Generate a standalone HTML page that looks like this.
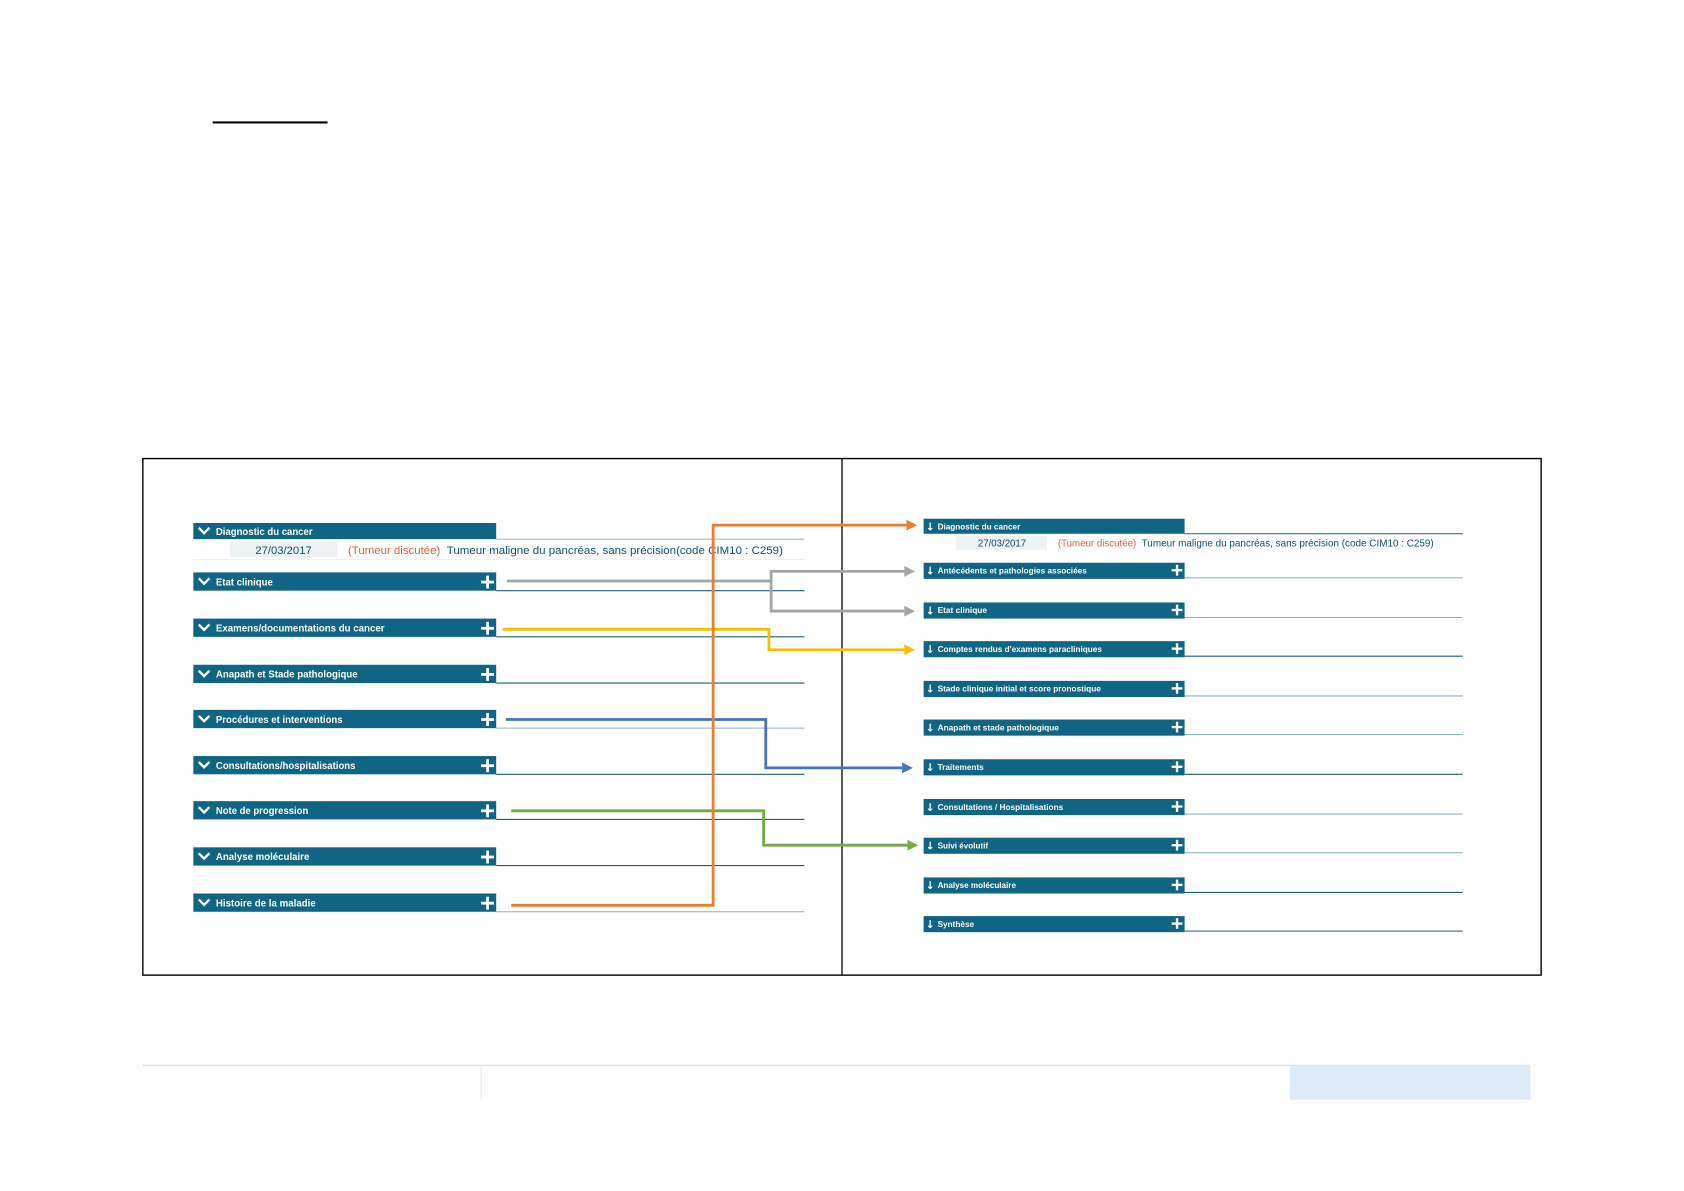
<!DOCTYPE html>
<html><head><meta charset="utf-8"><style>
html,body{margin:0;padding:0;background:#fff;}
svg{display:block;}
.h{fill:#fff;font-family:"Liberation Sans",sans-serif;font-weight:bold;font-size:9.5px;}
.hr{fill:#fff;font-family:"Liberation Sans",sans-serif;font-weight:bold;font-size:8px;}
.ar{fill:#fff;font-family:"DejaVu Sans",sans-serif;font-weight:bold;font-size:10px;}
</style></head><body>
<svg width="1684" height="1191" viewBox="0 0 1568 1109" xmlns="http://www.w3.org/2000/svg">
<defs>
<g id="plus"><rect x="-6" y="-1.3" width="12" height="2.6" fill="#fff"/><rect x="-1.3" y="-6" width="2.6" height="12" fill="#fff"/></g>
<g id="chev"><polyline points="-5,-2.5 0,2.5 5,-2.5" fill="none" stroke="#fff" stroke-width="2.2"/></g>
<g id="plusr"><rect x="-5" y="-1.1" width="10" height="2.2" fill="#fff"/><rect x="-1.1" y="-5" width="2.2" height="10" fill="#fff"/></g>
</defs>
<line x1="198" y1="114" x2="305" y2="114" stroke="#000" stroke-width="2"/>
<rect x="133" y="427" width="1302" height="481" fill="none" stroke="#000" stroke-width="1.3"/>
<line x1="784" y1="427" x2="784" y2="908" stroke="#000" stroke-width="1.2"/>

<rect x="180" y="487" width="282" height="15" fill="#0f6583"/>
<use href="#chev" x="190" y="494"/>
<text class="h" x="201" y="498" textLength="90" lengthAdjust="spacingAndGlyphs">Diagnostic du cancer</text>
<line x1="462" y1="502" x2="749" y2="502" stroke="#8fb2c2" stroke-width="1"/>
<rect x="214" y="504" width="100" height="15" fill="#edf3f5"/>
<text x="264" y="516" text-anchor="middle" font-family="Liberation Sans,sans-serif" font-size="10.5" fill="#1b4d68">27/03/2017</text>
<text x="324" y="516" font-family="Liberation Sans,sans-serif" font-size="10.5" fill="#e0604a" textLength="86" lengthAdjust="spacingAndGlyphs">(Tumeur discutée)</text>
<text x="416" y="516" font-family="Liberation Sans,sans-serif" font-size="10.5" fill="#14506e" textLength="313" lengthAdjust="spacingAndGlyphs">Tumeur maligne du pancréas, sans précision(code CIM10 : C259)</text>
<line x1="180" y1="521" x2="749" y2="521" stroke="#eef2f4" stroke-width="1"/>

<g>
<rect x="180" y="533" width="282" height="17" fill="#0f6583"/><use href="#chev" x="190" y="541"/><use href="#plus" x="454" y="542"/>
<text class="h" x="201" y="545" textLength="53" lengthAdjust="spacingAndGlyphs">Etat clinique</text>
<line x1="462" y1="550" x2="749" y2="550" stroke="#1f5f78" stroke-width="1"/>

<rect x="180" y="576" width="282" height="17" fill="#0f6583"/><use href="#chev" x="190" y="584"/><use href="#plus" x="454" y="585"/>
<text class="h" x="201" y="588" textLength="157" lengthAdjust="spacingAndGlyphs">Examens/documentations du cancer</text>
<line x1="462" y1="593" x2="749" y2="593" stroke="#1f5f78" stroke-width="1"/>

<rect x="180" y="619" width="282" height="17" fill="#0f6583"/><use href="#chev" x="190" y="627"/><use href="#plus" x="454" y="628"/>
<text class="h" x="201" y="631" textLength="132" lengthAdjust="spacingAndGlyphs">Anapath et Stade pathologique</text>
<line x1="462" y1="636" x2="749" y2="636" stroke="#1f5f78" stroke-width="1"/>

<rect x="180" y="661" width="282" height="17" fill="#0f6583"/><use href="#chev" x="190" y="669"/><use href="#plus" x="454" y="670"/>
<text class="h" x="201" y="673" textLength="118" lengthAdjust="spacingAndGlyphs">Procédures et interventions</text>
<line x1="462" y1="678" x2="749" y2="678" stroke="#8fb2c2" stroke-width="1"/>

<rect x="180" y="704" width="282" height="17" fill="#0f6583"/><use href="#chev" x="190" y="712"/><use href="#plus" x="454" y="713"/>
<text class="h" x="201" y="716" textLength="130" lengthAdjust="spacingAndGlyphs">Consultations/hospitalisations</text>
<line x1="462" y1="721" x2="749" y2="721" stroke="#1f5f78" stroke-width="1"/>

<rect x="180" y="746" width="282" height="17" fill="#0f6583"/><use href="#chev" x="190" y="754"/><use href="#plus" x="454" y="755"/>
<text class="h" x="201" y="758" textLength="86" lengthAdjust="spacingAndGlyphs">Note de progression</text>
<line x1="462" y1="763" x2="749" y2="763" stroke="#1f5f78" stroke-width="1"/>

<rect x="180" y="789" width="282" height="17" fill="#0f6583"/><use href="#chev" x="190" y="797"/><use href="#plus" x="454" y="798"/>
<text class="h" x="201" y="801" textLength="87" lengthAdjust="spacingAndGlyphs">Analyse moléculaire</text>
<line x1="462" y1="806" x2="749" y2="806" stroke="#1f5f78" stroke-width="1"/>

<rect x="180" y="832" width="282" height="17" fill="#0f6583"/><use href="#chev" x="190" y="840"/><use href="#plus" x="454" y="841"/>
<text class="h" x="201" y="844" textLength="93" lengthAdjust="spacingAndGlyphs">Histoire de la maladie</text>
<line x1="462" y1="849" x2="749" y2="849" stroke="#8fb2c2" stroke-width="1"/>
</g>

<g font-family="Liberation Sans,sans-serif">
<rect x="860" y="483" width="243" height="14" fill="#0f6583"/>
<text class="ar" x="862" y="494">↓</text>
<text class="hr" x="873" y="493" textLength="77" lengthAdjust="spacingAndGlyphs">Diagnostic du cancer</text>
<line x1="1103" y1="497" x2="1362" y2="497" stroke="#1f5f78" stroke-width="1"/>
<rect x="890" y="499" width="85" height="13" fill="#edf3f5"/>
<text x="933" y="509" text-anchor="middle" font-size="9" fill="#1b4d68">27/03/2017</text>
<text x="985" y="509" font-size="9" fill="#e0604a" textLength="73" lengthAdjust="spacingAndGlyphs">(Tumeur discutée)</text>
<text x="1063" y="509" font-size="9" fill="#14506e" textLength="272" lengthAdjust="spacingAndGlyphs">Tumeur maligne du pancréas, sans précision (code CIM10 : C259)</text>
</g>
<g>
<rect x="860" y="524" width="243" height="15" fill="#0f6583"/><text class="ar" x="862" y="535">↓</text><use href="#plusr" x="1096" y="531"/>
<text class="hr" x="873" y="534" textLength="139" lengthAdjust="spacingAndGlyphs">Antécédents et pathologies associées</text>
<line x1="1103" y1="538" x2="1362" y2="538" stroke="#8fb2c2" stroke-width="1"/>

<rect x="860" y="561" width="243" height="15" fill="#0f6583"/><text class="ar" x="862" y="572">↓</text><use href="#plusr" x="1096" y="568"/>
<text class="hr" x="873" y="571" textLength="46" lengthAdjust="spacingAndGlyphs">Etat clinique</text>
<line x1="1103" y1="575" x2="1362" y2="575" stroke="#8fb2c2" stroke-width="1"/>

<rect x="860" y="597" width="243" height="15" fill="#0f6583"/><text class="ar" x="862" y="608">↓</text><use href="#plusr" x="1096" y="604"/>
<text class="hr" x="873" y="607" textLength="153" lengthAdjust="spacingAndGlyphs">Comptes rendus d'examens paracliniques</text>
<line x1="1103" y1="611" x2="1362" y2="611" stroke="#1f5f78" stroke-width="1"/>

<rect x="860" y="634" width="243" height="15" fill="#0f6583"/><text class="ar" x="862" y="645">↓</text><use href="#plusr" x="1096" y="641"/>
<text class="hr" x="873" y="644" textLength="152" lengthAdjust="spacingAndGlyphs">Stade clinique initial et score pronostique</text>
<line x1="1103" y1="648" x2="1362" y2="648" stroke="#8fb2c2" stroke-width="1"/>

<rect x="860" y="670" width="243" height="15" fill="#0f6583"/><text class="ar" x="862" y="681">↓</text><use href="#plusr" x="1096" y="677"/>
<text class="hr" x="873" y="680" textLength="113" lengthAdjust="spacingAndGlyphs">Anapath et stade pathologique</text>
<line x1="1103" y1="684" x2="1362" y2="684" stroke="#8fb2c2" stroke-width="1"/>

<rect x="860" y="707" width="243" height="15" fill="#0f6583"/><text class="ar" x="862" y="718">↓</text><use href="#plusr" x="1096" y="714"/>
<text class="hr" x="873" y="717" textLength="43" lengthAdjust="spacingAndGlyphs">Traitements</text>
<line x1="1103" y1="721" x2="1362" y2="721" stroke="#1f5f78" stroke-width="1"/>

<rect x="860" y="744" width="243" height="15" fill="#0f6583"/><text class="ar" x="862" y="755">↓</text><use href="#plusr" x="1096" y="751"/>
<text class="hr" x="873" y="754" textLength="117" lengthAdjust="spacingAndGlyphs">Consultations / Hospitalisations</text>
<line x1="1103" y1="758" x2="1362" y2="758" stroke="#8fb2c2" stroke-width="1"/>

<rect x="860" y="780" width="243" height="15" fill="#0f6583"/><text class="ar" x="862" y="791">↓</text><use href="#plusr" x="1096" y="787"/>
<text class="hr" x="873" y="790" textLength="47" lengthAdjust="spacingAndGlyphs">Suivi évolutif</text>
<line x1="1103" y1="794" x2="1362" y2="794" stroke="#8fb2c2" stroke-width="1"/>

<rect x="860" y="817" width="243" height="15" fill="#0f6583"/><text class="ar" x="862" y="828">↓</text><use href="#plusr" x="1096" y="824"/>
<text class="hr" x="873" y="827" textLength="73" lengthAdjust="spacingAndGlyphs">Analyse moléculaire</text>
<line x1="1103" y1="831" x2="1362" y2="831" stroke="#1f5f78" stroke-width="1"/>

<rect x="860" y="853" width="243" height="15" fill="#0f6583"/><text class="ar" x="862" y="864">↓</text><use href="#plusr" x="1096" y="860"/>
<text class="hr" x="873" y="863" textLength="34" lengthAdjust="spacingAndGlyphs">Synthèse</text>
<line x1="1103" y1="867" x2="1362" y2="867" stroke="#1f5f78" stroke-width="1"/>
</g>

<g fill="none" stroke-width="2.6">
<polyline points="472,541 718,541" stroke="#a5a5a5"/>
<polyline points="842,532 718,532 718,569 842,569" stroke="#a5a5a5"/>
<polyline points="468,586 716,586 716,605 842,605" stroke="#f5c000"/>
<polyline points="471,670 713,670 713,715 840,715" stroke="#4472c4"/>
<polyline points="476,755 711,755 711,787 845,787" stroke="#70ad47"/>
<polyline points="476,843 664,843 664,489 844,489" stroke="#ed7d31"/>
</g>
<g stroke="none">
<polygon points="842,527 852,532 842,537" fill="#a5a5a5"/>
<polygon points="842,564 852,569 842,574" fill="#a5a5a5"/>
<polygon points="842,600 852,605 842,610" fill="#f5c000"/>
<polygon points="840,710 850,715 840,720" fill="#4472c4"/>
<polygon points="845,782 855,787 845,792" fill="#70ad47"/>
<polygon points="844,484 854,489 844,494" fill="#ed7d31"/>
</g>

<line x1="133" y1="992" x2="1425" y2="992" stroke="#dcdcdc" stroke-width="1.2"/>
<line x1="448" y1="992" x2="448" y2="1024" stroke="#e6e6e6" stroke-width="1"/>
<rect x="1201" y="992" width="224" height="32" fill="#deeaf6"/>
</svg>
</body></html>
